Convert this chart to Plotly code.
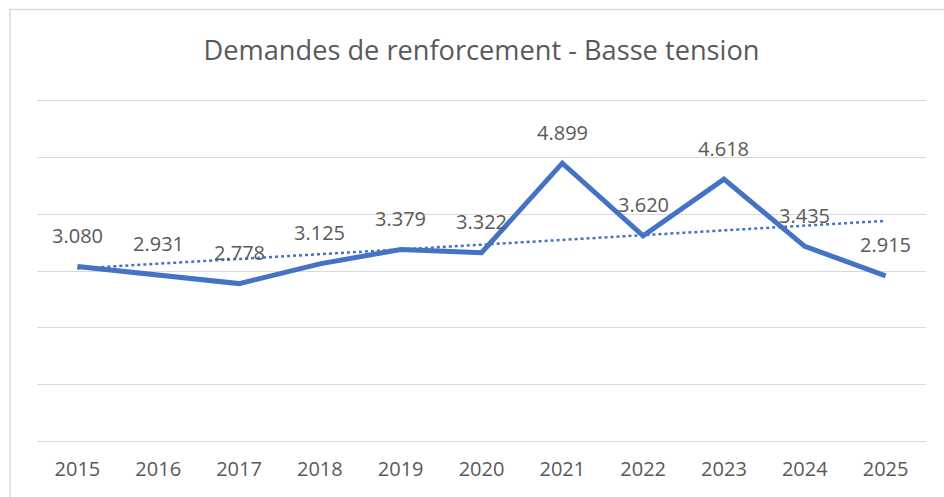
import numpy as np
import plotly.graph_objects as go

years = ["2015", "2016", "2017", "2018", "2019", "2020", "2021", "2022", "2023", "2024", "2025"]
values = [3080, 2931, 2778, 3125, 3379, 3322, 4899, 3620, 4618, 3435, 2915]
labels = ["3.080", "2.931", "2.778", "3.125", "3.379", "3.322", "4.899", "3.620", "4.618", "3.435", "2.915"]
title_text = "Demandes de renforcement - Basse tension"

BLUE = "#4472C4"
TXT = "#595959"
GRID = "#D9D9D9"
FONT = "Open Sans, Liberation Sans, sans-serif"

idx = list(range(len(values)))
slope, intercept = np.polyfit(idx, values, 1)
trend = [slope * i + intercept for i in idx]

fig = go.Figure()
fig.add_trace(go.Scatter(x=idx, y=trend, mode="lines",
                         line=dict(color=BLUE, width=2.5, dash="dot"),
                         hoverinfo="skip", showlegend=False))
fig.add_trace(go.Scatter(x=idx, y=values, mode="lines",
                         line=dict(color=BLUE, width=5),
                         showlegend=False))

for i, v, lab in zip(idx, values, labels):
    fig.add_annotation(x=i, y=v, xref="x", yref="y", text=lab, showarrow=False, yshift=31,
                       yanchor="middle", font=dict(family=FONT, size=20, color=TXT))

W, H = 944, 497
PX_PER_UNIT = 340 / 6000.0
PAD = 100
padpx = PAD * PX_PER_UNIT
L, R = 37, 18
T = 101 - padpx
B = 56 - padpx
pw, ph = W - L - R, H - T - B
fig.add_shape(type="rect", xref="paper", yref="paper",
              x0=(10 - L) / pw, x1=(W + 10 - L) / pw,
              y0=-(B + 10) / ph, y1=(H - B - 10) / ph,
              line=dict(color=GRID, width=1.5), fillcolor="rgba(0,0,0,0)", layer="below")

fig.update_layout(
    width=W, height=H,
    margin=dict(l=L, r=R, t=T, b=B, autoexpand=False),
    paper_bgcolor="white", plot_bgcolor="white",
    title=dict(text=title_text, x=0.5, xref="paper", xanchor="center",
               y=1 - 50 / H, yref="container", yanchor="middle",
               font=dict(family=FONT, size=27.2, color=TXT)),
    xaxis=dict(range=[-0.5, 10.5], tickvals=idx, ticktext=years, showgrid=False, showline=False,
               zeroline=False, ticks="", tickfont=dict(family=FONT, size=20, color=TXT),
               ticklabelstandoff=8, automargin=False, fixedrange=True),
    yaxis=dict(range=[-PAD, 6000 + PAD], tickvals=[0, 1000, 2000, 3000, 4000, 5000, 6000],
               showgrid=True, gridcolor=GRID, gridwidth=1.3, automargin=False,
               showticklabels=False, zeroline=False, showline=False, fixedrange=True),
    font=dict(family=FONT, color=TXT),
)

fig.write_html("out.html", config={"displayModeBar": False},
               post_script="document.body.style.margin='0';document.body.style.overflow='hidden';")
